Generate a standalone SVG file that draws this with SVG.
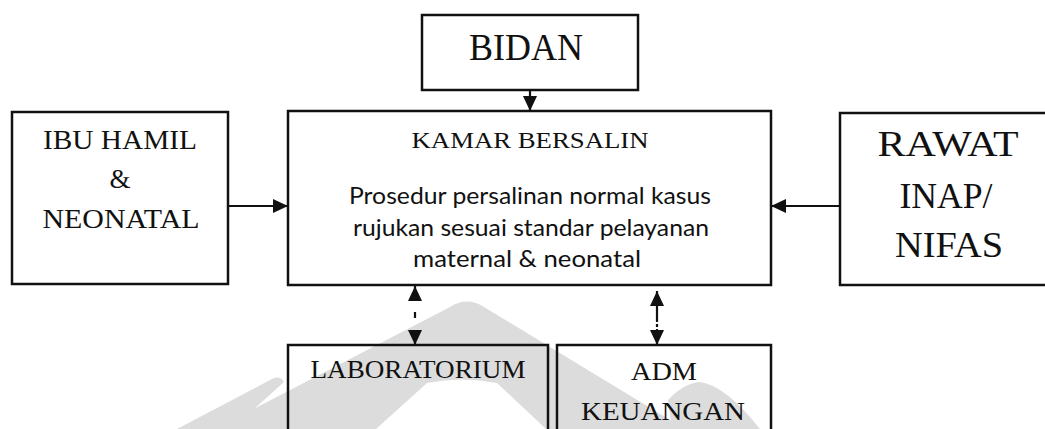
<svg xmlns="http://www.w3.org/2000/svg" width="1045" height="429" viewBox="0 0 1045 429">
<style>
.box{fill:none;stroke:#111;stroke-width:2.5}
.serif{font-family:"Liberation Serif","Times New Roman",serif;fill:#111;text-anchor:middle}
.sans{font-family:Lato,"Open Sans","Liberation Sans",sans-serif;fill:#111;text-anchor:middle}
.conn{stroke:#111;stroke-width:2.2;fill:none}
.wm{fill:#dcdcdc}
</style>
<defs>
<marker id="ah" markerUnits="userSpaceOnUse" markerWidth="16" markerHeight="14" refX="15" refY="7" orient="auto-start-reverse">
<path d="M0,0 L15,7 L0,14 Z" fill="#111"/>
</marker>
</defs>
<rect x="0" y="0" width="1045" height="429" fill="#fff"/>
<g id="watermark">
<path class="wm" d="M215 429 L450 307 Q467 296 484 307 L685 429 Z"/>
<path class="wm" d="M177 429 L272 379 Q280 375 284 382 L232 429 Z"/>
<path class="wm" d="M760 429 Q725 385 700 382 Q684 383 668 400 L672 429 Z"/>
<path d="M376 429 L427 383 Q462 376 497 383 L546 429 Z" fill="#fff"/>
</g>
<g id="bidan">
<rect class="box" x="422" y="15" width="216" height="75"/>
<text class="serif" x="526" y="60" font-size="38" textLength="114" lengthAdjust="spacingAndGlyphs">BIDAN</text>
</g>
<g id="ibu-hamil">
<rect class="box" x="12" y="112" width="216" height="172"/>
<text class="serif" x="120" y="149" font-size="27" textLength="154" lengthAdjust="spacingAndGlyphs">IBU HAMIL</text>
<text class="serif" x="120" y="188" font-size="27">&amp;</text>
<text class="serif" x="121" y="228" font-size="27" textLength="157" lengthAdjust="spacingAndGlyphs">NEONATAL</text>
</g>
<g id="kamar-bersalin">
<rect class="box" x="288" y="111" width="483" height="174"/>
<text class="serif" x="530" y="148" font-size="23" textLength="237" lengthAdjust="spacingAndGlyphs">KAMAR BERSALIN</text>
<text class="sans" x="530" y="204" font-size="23" textLength="362" lengthAdjust="spacingAndGlyphs">Prosedur persalinan normal kasus</text>
<text class="sans" x="531" y="236" font-size="23" textLength="356" lengthAdjust="spacingAndGlyphs">rujukan sesuai standar pelayanan</text>
<text class="sans" x="527" y="267" font-size="23" textLength="228" lengthAdjust="spacingAndGlyphs">maternal &amp; neonatal</text>
</g>
<g id="rawat-inap">
<rect class="box" x="840" y="113" width="215" height="172"/>
<text class="serif" x="948" y="156" font-size="36" textLength="141" lengthAdjust="spacingAndGlyphs">RAWAT</text>
<text class="serif" x="946" y="208" font-size="36" textLength="93" lengthAdjust="spacingAndGlyphs">INAP/</text>
<text class="serif" x="949" y="257" font-size="36" textLength="108" lengthAdjust="spacingAndGlyphs">NIFAS</text>
</g>
<g id="laboratorium">
<rect class="box" x="288" y="345" width="260" height="100"/>
<text class="serif" x="418" y="378" font-size="25" textLength="215" lengthAdjust="spacingAndGlyphs">LABORATORIUM</text>
</g>
<g id="adm-keuangan">
<rect class="box" x="557" y="345" width="214" height="100"/>
<text class="serif" x="664" y="380" font-size="25" textLength="66" lengthAdjust="spacingAndGlyphs">ADM</text>
<text class="serif" x="663" y="420" font-size="25" textLength="164" lengthAdjust="spacingAndGlyphs">KEUANGAN</text>
</g>
<g id="connectors">
<line class="conn" x1="530" y1="90" x2="530" y2="111" marker-end="url(#ah)"/>
<line class="conn" x1="228" y1="206" x2="288" y2="206" marker-end="url(#ah)"/>
<line class="conn" x1="840" y1="206" x2="771" y2="206" marker-end="url(#ah)"/>
<line class="conn" x1="415" y1="286" x2="415" y2="345" stroke-dasharray="14 12 6 14 13" marker-start="url(#ah)" marker-end="url(#ah)"/>
<line class="conn" x1="657" y1="291" x2="657" y2="345" stroke-dasharray="31 2 3 2 20" marker-start="url(#ah)" marker-end="url(#ah)"/>
</g>
</svg>
